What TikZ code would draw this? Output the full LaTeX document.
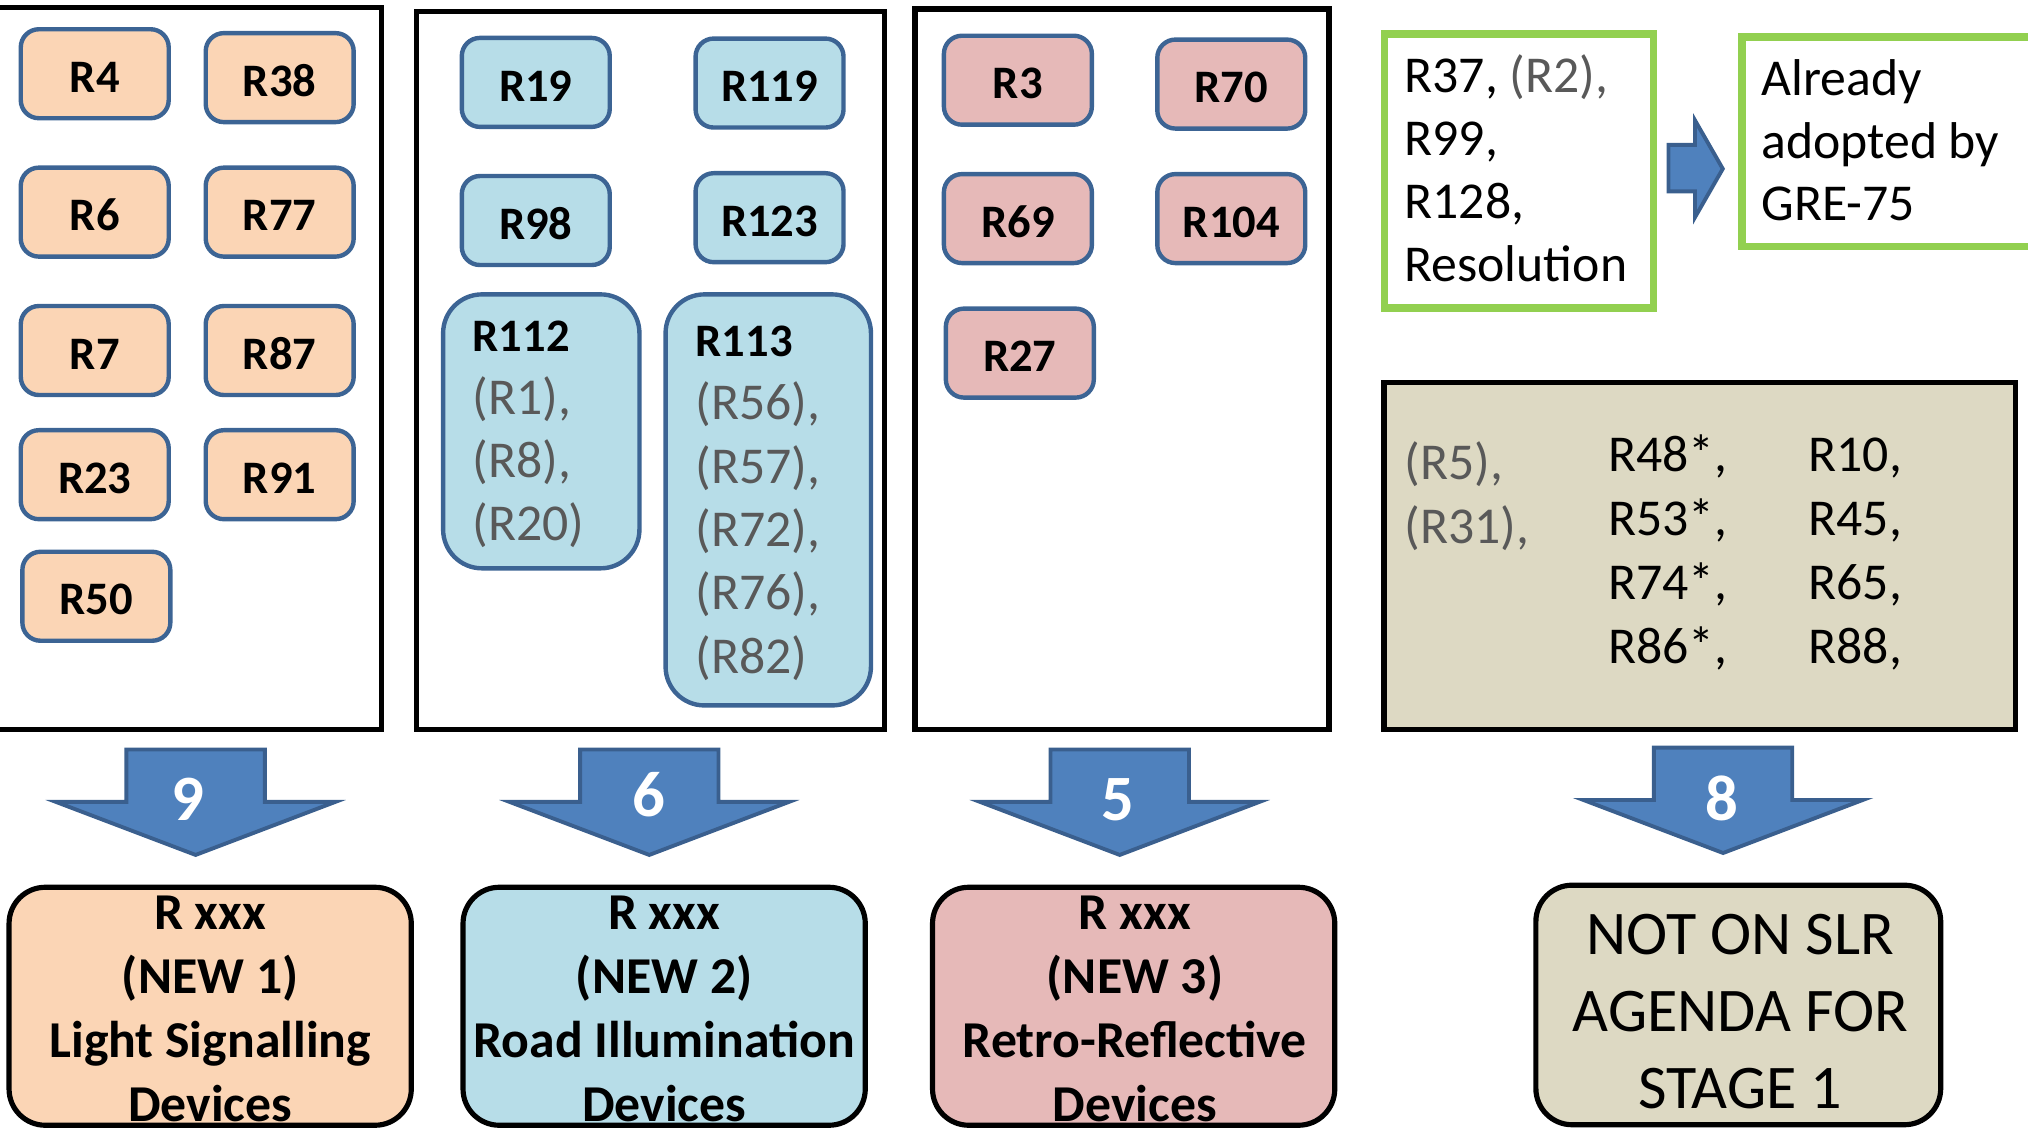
\documentclass[tikz,border=0pt]{standalone}
\usepackage{fontspec}
\setmainfont{Carlito}
\definecolor{boxblue}{HTML}{3C6494}
\definecolor{orfill}{HTML}{FBD5B5}
\definecolor{blfill}{HTML}{B7DDE8}
\definecolor{pkfill}{HTML}{E6B9B8}
\definecolor{tanfill}{HTML}{DDD9C3}
\definecolor{grn}{HTML}{92D050}
\definecolor{arrfill}{HTML}{4F81BD}
\definecolor{arrline}{HTML}{3A5F8E}
\definecolor{greytxt}{HTML}{595959}
\tikzset{
  panel/.style={draw=black,line width=2pt},
  sbox/.style={draw=boxblue,line width=1.7pt,rounded corners=7pt,minimum width=57.2pt,minimum height=34.4pt,inner sep=0pt,text height=14.4pt,text depth=0pt,font=\bfseries\fontsize{18}{22}\selectfont},
  obox/.style={sbox,fill=orfill},
  bbox/.style={sbox,fill=blfill},
  pbox/.style={sbox,fill=pkfill},
  bigbox/.style={draw=boxblue,line width=1.7pt,rounded corners=15pt,fill=blfill,inner sep=0pt},
  gbox/.style={draw=grn,line width=3pt,inner sep=0pt},
  txt/.style={inner sep=0pt,anchor=base west},
  newbox/.style={draw=black,line width=2pt,rounded corners=14pt,inner sep=0pt},
  btxt/.style={inner sep=0pt,anchor=base,font=\bfseries\fontsize{20}{24.7}\selectfont},
  num/.style={inner sep=0pt,anchor=base,text=white,font=\bfseries\fontsize{25}{30}\selectfont},
  blockarrow/.style={fill=arrfill,draw=arrline,line width=1.5pt,line join=miter},
  downarr/.pic={\draw[blockarrow] (-53.5,1.5) -- (53.5,1.5) -- (53.5,42) -- (108,42) -- (0,83) -- (-108,42) -- (-53.5,42) -- cycle;}
}
\begin{document}
\begin{tikzpicture}[x=0.5pt,y=-0.5pt]
\useasboundingbox (0,0) rectangle (1568,874.5);

% panels
\draw[panel] (-5,5.7) rectangle (295,564);
\draw[panel] (322,9) rectangle (684,564);
\draw[panel] (707.5,7) rectangle (1027.5,564);
\draw[panel,fill=tanfill] (1070,296) rectangle (1558.5,564);

% panel 1 (orange)
\node[obox] (r4)  at (73.25,57) {R4};
\node[obox] (r38) at (216.25,60) {R38};
\node[obox] (r6)  at (73.25,164) {R6};
\node[obox] (r77) at (216.25,164) {R77};
\node[obox] (r7)  at (73.25,271) {R7};
\node[obox] (r87) at (216.25,271) {R87};
\node[obox] (r23) at (73.25,367) {R23};
\node[obox] (r91) at (216.25,367) {R91};
\node[obox] (r50) at (74.5,461) {R50};

% panel 2 (blue)
\node[bbox] (r19)  at (414.25,63.7) {R19};
\node[bbox] (r119) at (595,64.2) {R119};
\node[bbox] (r98)  at (414.25,170.5) {R98};
\node[bbox] (r123) at (595,168.3) {R123};
\node[bigbox,minimum width=75.9pt,minimum height=105.9pt] (r112) at (418.5,333.5) {};
\node[txt,font=\fontsize{20}{24.4}\selectfont] (r112t) at (365,271.7)
  {\begin{tabular}[t]{@{}l@{}}{\bfseries\fontsize{18}{22}\selectfont R112}\\\textcolor{greytxt}{(R1),}\\\textcolor{greytxt}{(R8),}\\\textcolor{greytxt}{(R20)}\end{tabular}};
\node[bigbox,minimum width=79.4pt,minimum height=158.9pt] (r113) at (594,386.5) {};
\node[txt,font=\fontsize{20}{24.5}\selectfont] (r113t) at (537.5,275.5)
  {\begin{tabular}[t]{@{}l@{}}{\bfseries\fontsize{18}{22}\selectfont R113}\\\textcolor{greytxt}{(R56),}\\\textcolor{greytxt}{(R57),}\\\textcolor{greytxt}{(R72),}\\\textcolor{greytxt}{(R76),}\\\textcolor{greytxt}{(R82)}\end{tabular}};

% panel 3 (pink)
\node[pbox] (r3)   at (787,62) {R3};
\node[pbox] (r70)  at (952,65) {R70};
\node[pbox] (r69)  at (787,169) {R69};
\node[pbox] (r104) at (952,169) {R104};
\node[pbox] (r27)  at (788.5,273) {R27};

% green boxes
\node[gbox,minimum width=104pt,minimum height=105.75pt] (g1) at (1174.5,132.25) {};
\node[txt,font=\fontsize{20}{24.35}\selectfont] (g1t) at (1085.5,71.2)
  {\begin{tabular}[t]{@{}l@{}}R37, \textcolor{greytxt}{(R2),}\\R99,\\R128,\\Resolution\end{tabular}};
\node[gbox,minimum width=125pt,minimum height=81pt] (g2) at (1472,109.5) {};
\node[txt,font=\fontsize{20}{24.25}\selectfont] (g2t) at (1361.5,73.8)
  {\begin{tabular}[t]{@{}l@{}}Already\\adopted by\\GRE-75\end{tabular}};
\draw[blockarrow] (1290,112) -- (1310.5,112) -- (1310.5,93) -- (1332,130.5) -- (1310.5,168) -- (1310.5,148) -- (1290,148) -- cycle;

% tan box texts
\node[txt,font=\fontsize{20}{24.75}\selectfont] (tc1) at (1085.5,371)
  {\begin{tabular}[t]{@{}l@{}}\textcolor{greytxt}{(R5),}\\\textcolor{greytxt}{(R31),}\end{tabular}};
\node[txt,font=\fontsize{20}{24.75}\selectfont] (tc2) at (1243,364.3)
  {\begin{tabular}[t]{@{}l@{}}R48*,\\R53*,\\R74*,\\R86*,\end{tabular}};
\node[txt,font=\fontsize{20}{24.75}\selectfont] (tc3) at (1398,364.3)
  {\begin{tabular}[t]{@{}l@{}}R10,\\R45,\\R65,\\R88,\end{tabular}};

% block arrows with counts
\pic at (151.25,578) {downarr};
\node[num] (c9) at (145,634) {9};
\pic at (502,578) {downarr};
\node[num] (c6) at (501.5,631.4) {6};
\pic at (865.75,578) {downarr};
\node[num] (c5) at (864,634) {5};
\pic at (1332.25,576.5) {downarr};
\node[num] (c8) at (1331.5,634) {8};

% bottom boxes
\node[newbox,fill=orfill,minimum width=155.5pt,minimum height=92pt] (n1) at (162.5,778) {};
\node[btxt] (n1t) at (162.5,719)
  {\begin{tabular}[t]{@{}c@{}}R xxx\\(NEW 1)\\Light Signalling\\Devices\end{tabular}};
\node[newbox,fill=blfill,minimum width=155.5pt,minimum height=92pt] (n2) at (513.5,778) {};
\node[btxt] (n2t) at (513.5,719)
  {\begin{tabular}[t]{@{}c@{}}R xxx\\(NEW 2)\\Road Illumination\\Devices\end{tabular}};
\node[newbox,fill=pkfill,minimum width=155.5pt,minimum height=92pt] (n3) at (876.5,778) {};
\node[btxt] (n3t) at (877.5,719)
  {\begin{tabular}[t]{@{}c@{}}R xxx\\(NEW 3)\\Retro-Reflective\\Devices\end{tabular}};
\node[newbox,fill=tanfill,minimum width=156.5pt,minimum height=92.6pt] (n4) at (1344,777) {};
\node[inner sep=0pt,anchor=base,font=\fontsize{24}{29.65}\selectfont] (n4t) at (1345.5,738.3)
  {\begin{tabular}[t]{@{}c@{}}NOT ON SLR\\AGENDA FOR\\STAGE 1\end{tabular}};
\end{tikzpicture}
\end{document}
